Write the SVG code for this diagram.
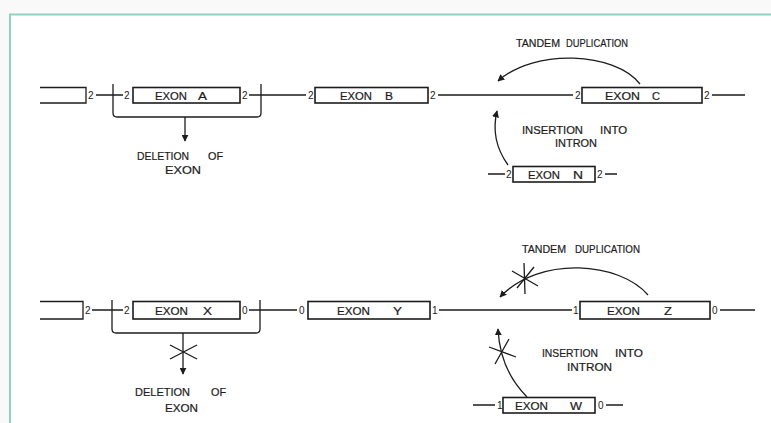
<svg xmlns="http://www.w3.org/2000/svg" width="771" height="423" viewBox="0 0 771 423">
<style>
.ln{stroke:#1c1c1c;stroke-width:1.3;fill:none}
.box{fill:#fff;stroke:#1c1c1c;stroke-width:1.6}
.t{font-family:"Liberation Sans",Arial,sans-serif;font-size:11px;fill:#1c1c1c;stroke:#1c1c1c;stroke-width:0.2}
.n{font-family:"Liberation Sans",Arial,sans-serif;font-size:10px;fill:#1c1c1c}
</style>
<defs>
<marker id="ah" viewBox="0 0 10 10" refX="9" refY="5" markerWidth="7" markerHeight="7" markerUnits="userSpaceOnUse" orient="auto">
<path d="M0,0 L10,5 L0,10 Z" fill="#1c1c1c"/>
</marker>
</defs>
<rect x="0" y="0" width="771" height="423" fill="#f9f9f9"/>
<rect x="10" y="14" width="761" height="409" fill="#fff"/>
<path d="M9,14.5 H771 M10,14 V423" stroke="#8dd3c0" stroke-width="2" fill="none"/>

<g id="connectors">
<path class="ln" d="M96,95 H123 M249,95 H306 M438,95 H573 M712,95 H745"/>
<path class="ln" d="M488,174 H505 M605,174 H617"/>
<path class="ln" d="M113,84 V113 Q113,117 117,117 H257 Q261,117 261,113 V84"/>
<path class="ln" d="M185,117 V141" marker-end="url(#ah)"/>
<path class="ln" d="M640,84 C615,52 535,48 498,81" marker-end="url(#ah)"/>
<path class="ln" d="M508,165 Q490,140 497,111" marker-end="url(#ah)"/>
<path class="ln" d="M92,310 H123 M249,310 H297 M439,310 H572 M720,310 H755"/>
<path class="ln" d="M473,405 H495 M606,405 H623"/>
<path class="ln" d="M112,300 V329 Q112,333 116,333 H256 Q260,333 260,329 V300"/>
<path class="ln" d="M183,333 V374" marker-end="url(#ah)"/>
<path class="ln" d="M170,345 L197,359 M170,359 L197,345"/>
<path class="ln" d="M648,295 C620,262 540,255 500,297" marker-end="url(#ah)"/>
<path class="ln" d="M524,263 L525,294 M512,271 L538,286 M517,288 L534,267"/>
<path class="ln" d="M527,397 Q500,370 498,329" marker-end="url(#ah)"/>
<path class="ln" d="M489,347 L516,357 M495,364 L509,339"/>
</g>

<g id="left-open-1">
<path class="ln" d="M40,87.5 H86 V103 H40" stroke-width="1.6"/>
<text class="n" x="88" y="99">2</text>
</g>
<g id="exon-a">
<text class="n" x="124" y="99">2</text>
<rect class="box" x="133" y="87.5" width="107" height="15.5"/>
<text class="t" x="155" y="99.5" textLength="32" lengthAdjust="spacingAndGlyphs">EXON</text>
<text class="t" x="198" y="99.5" textLength="9" lengthAdjust="spacingAndGlyphs">A</text>
<text class="n" x="242" y="99">2</text>
</g>
<g id="exon-b">
<text class="n" x="308" y="99">2</text>
<rect class="box" x="315" y="87.5" width="113" height="15.5"/>
<text class="t" x="340" y="99.5" textLength="32" lengthAdjust="spacingAndGlyphs">EXON</text>
<text class="t" x="385" y="99.5" textLength="8" lengthAdjust="spacingAndGlyphs">B</text>
<text class="n" x="430" y="99">2</text>
</g>
<g id="exon-c">
<text class="n" x="575" y="99">2</text>
<rect class="box" x="582" y="87.5" width="120" height="15.5"/>
<text class="t" x="605" y="99.5" textLength="35" lengthAdjust="spacingAndGlyphs">EXON</text>
<text class="t" x="652" y="99.5" textLength="8" lengthAdjust="spacingAndGlyphs">C</text>
<text class="n" x="704" y="99">2</text>
</g>
<g id="exon-n">
<text class="n" x="506" y="178">2</text>
<rect class="box" x="513" y="166.5" width="82" height="15.5"/>
<text class="t" x="528" y="178.5" textLength="32" lengthAdjust="spacingAndGlyphs">EXON</text>
<text class="t" x="573" y="178.5" textLength="10" lengthAdjust="spacingAndGlyphs">N</text>
<text class="n" x="597" y="178">2</text>
</g>
<g id="labels-1">
<text class="t" x="516" y="47" textLength="44" lengthAdjust="spacingAndGlyphs">TANDEM</text>
<text class="t" x="566" y="47" textLength="62" lengthAdjust="spacingAndGlyphs">DUPLICATION</text>
<text class="t" x="522" y="134" textLength="61" lengthAdjust="spacingAndGlyphs">INSERTION</text>
<text class="t" x="600" y="134" textLength="27" lengthAdjust="spacingAndGlyphs">INTO</text>
<text class="t" x="555" y="147" textLength="42" lengthAdjust="spacingAndGlyphs">INTRON</text>
<text class="t" x="137" y="160" textLength="52" lengthAdjust="spacingAndGlyphs">DELETION</text>
<text class="t" x="208" y="160" textLength="15" lengthAdjust="spacingAndGlyphs">OF</text>
<text class="t" x="165" y="174" textLength="36" lengthAdjust="spacingAndGlyphs">EXON</text>
</g>

<g id="left-open-2">
<path class="ln" d="M40,301.5 H83 V319 H40" stroke-width="1.6"/>
<text class="n" x="85" y="314">2</text>
</g>
<g id="exon-x">
<text class="n" x="124" y="314">2</text>
<rect class="box" x="133" y="301.5" width="107" height="17.5"/>
<text class="t" x="155" y="314.5" textLength="33" lengthAdjust="spacingAndGlyphs">EXON</text>
<text class="t" x="203" y="314.5" textLength="9" lengthAdjust="spacingAndGlyphs">X</text>
<text class="n" x="242" y="314">0</text>
</g>
<g id="exon-y">
<text class="n" x="299" y="314">0</text>
<rect class="box" x="308" y="301.5" width="122" height="17.5"/>
<text class="t" x="337" y="314.5" textLength="33" lengthAdjust="spacingAndGlyphs">EXON</text>
<text class="t" x="393" y="314.5" textLength="9" lengthAdjust="spacingAndGlyphs">Y</text>
<text class="n" x="432" y="314">1</text>
</g>
<g id="exon-z">
<text class="n" x="573" y="314">1</text>
<rect class="box" x="580" y="301.5" width="130" height="17.5"/>
<text class="t" x="607" y="314.5" textLength="33" lengthAdjust="spacingAndGlyphs">EXON</text>
<text class="t" x="664" y="314.5" textLength="8" lengthAdjust="spacingAndGlyphs">Z</text>
<text class="n" x="712" y="314">0</text>
</g>
<g id="exon-w">
<text class="n" x="497" y="409">1</text>
<rect class="box" x="503" y="397.5" width="92" height="15.5"/>
<text class="t" x="515" y="409.5" textLength="33" lengthAdjust="spacingAndGlyphs">EXON</text>
<text class="t" x="570" y="409.5" textLength="12" lengthAdjust="spacingAndGlyphs">W</text>
<text class="n" x="598" y="409">0</text>
</g>
<g id="labels-2">
<text class="t" x="522" y="253" textLength="44" lengthAdjust="spacingAndGlyphs">TANDEM</text>
<text class="t" x="575" y="253" textLength="65" lengthAdjust="spacingAndGlyphs">DUPLICATION</text>
<text class="t" x="542" y="357" textLength="56" lengthAdjust="spacingAndGlyphs">INSERTION</text>
<text class="t" x="615" y="357" textLength="28" lengthAdjust="spacingAndGlyphs">INTO</text>
<text class="t" x="567" y="371" textLength="45" lengthAdjust="spacingAndGlyphs">INTRON</text>
<text class="t" x="135" y="396" textLength="55" lengthAdjust="spacingAndGlyphs">DELETION</text>
<text class="t" x="211" y="396" textLength="15" lengthAdjust="spacingAndGlyphs">OF</text>
<text class="t" x="165" y="412" textLength="33" lengthAdjust="spacingAndGlyphs">EXON</text>
</g>
</svg>
